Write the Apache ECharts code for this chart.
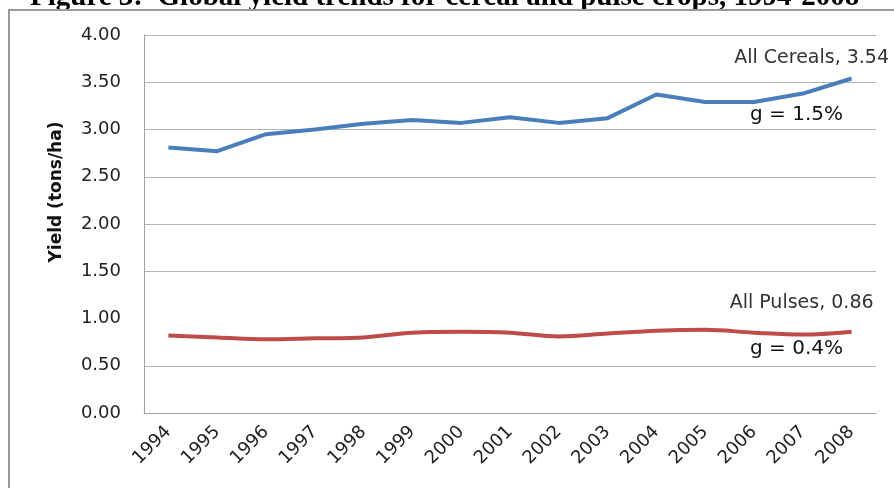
<!DOCTYPE html>
<html>
<head>
<meta charset="utf-8">
<script src="https://cdn.jsdelivr.net/npm/echarts@6/dist/echarts.min.js"></script>
<style>
  html, body { margin: 0; padding: 0; background: #fff; }
  #chart { width: 894px; height: 488px; }
</style>
</head>
<body>
<div id="chart"></div>
<script>
    // data
    var years = ['1994', '1995', '1996', '1997', '1998', '1999', '2000', '2001',
                 '2002', '2003', '2004', '2005', '2006', '2007', '2008'];
    var cereals = [2.81, 2.77, 2.95, 3.00, 3.06, 3.10, 3.07, 3.13, 3.07, 3.12, 3.37, 3.29, 3.29, 3.38, 3.54];
    var pulses = [0.82, 0.80, 0.78, 0.79, 0.80, 0.85, 0.86, 0.85, 0.81, 0.84, 0.87, 0.88, 0.85, 0.83, 0.86];
    var yTicks = [0, 0.5, 1, 1.5, 2, 2.5, 3, 3.5, 4];
    var growth = { cereals: 'g = 1.5%', pulses: 'g = 0.4%' };

    var textFont = '"DejaVu Sans", sans-serif';

    // the 1.00 gridline is absent in the original
    var gridColors = yTicks.map(function (v) {
        return v === 1 ? 'rgba(0,0,0,0)' : '#b4b4b4';
    });

    function lastLabel(values, name, offset) {
        return values.map(function (v, i) {
            if (i < values.length - 1) return v;
            return {
                value: v,
                label: {
                    show: true,
                    position: 'top',
                    offset: offset,
                    formatter: name + ', ' + v.toFixed(2),
                    fontFamily: textFont,
                    fontSize: 19,
                    color: '#333'
                }
            };
        });
    }

    var chart = echarts.init(document.getElementById('chart'));

    chart.setOption({
        animation: false,
        grid: { left: 144, right: 18, top: 35, bottom: 75 },
        xAxis: {
            type: 'category',
            data: years,
            boundaryGap: true,
            axisLine: { lineStyle: { color: '#a0a0a0', width: 1 } },
            axisTick: { show: false },
            axisLabel: {
                rotate: 45,
                margin: 16,
                fontFamily: textFont,
                fontSize: 18,
                color: '#222'
            }
        },
        yAxis: {
            type: 'value',
            min: 0,
            max: 4,
            interval: 0.5,
            axisLine: { show: true, lineStyle: { color: '#a0a0a0', width: 1 } },
            axisTick: { show: false },
            splitLine: { lineStyle: { color: gridColors, width: 1 } },
            axisLabel: {
                margin: 23,
                fontFamily: textFont,
                fontSize: 18,
                color: '#222',
                formatter: function (v) { return v.toFixed(2); }
            }
        },
        series: [
            {
                name: 'All Cereals',
                type: 'line',
                data: lastLabel(cereals, 'All Cereals', [-40, -6]),
                symbol: 'circle',
                symbolSize: 0,
                showSymbol: true,
                lineStyle: { color: '#4a7ebb', width: 4 },
                itemStyle: { color: '#4a7ebb' }
            },
            {
                name: 'All Pulses',
                type: 'line',
                data: lastLabel(pulses, 'All Pulses', [-50, -14]),
                smooth: 0.35,
                symbol: 'circle',
                symbolSize: 0,
                showSymbol: true,
                lineStyle: { color: '#be4b48', width: 4 },
                itemStyle: { color: '#be4b48' }
            }
        ],
        graphic: [
            {
                type: 'text',
                left: 30,
                top: -17,
                style: {
                    text: 'Figure 3:  Global yield trends for cereal and pulse crops, 1994-2008',
                    font: 'bold 29px "Liberation Serif", serif',
                    fill: '#000'
                }
            },
            {
                type: 'rect',
                shape: { x: 9, y: 10, width: 900, height: 500 },
                style: { fill: 'none', stroke: '#9a9a9a', lineWidth: 2 }
            },
            {
                type: 'text',
                x: 57,
                y: 192,
                rotation: Math.PI / 2,
                style: {
                    text: 'Yield (tons/ha)',
                    font: 'bold 17px ' + textFont,
                    fill: '#111',
                    align: 'center',
                    verticalAlign: 'middle'
                }
            },
            {
                type: 'text',
                left: 750,
                top: 105,
                style: {
                    text: growth.cereals,
                    font: '20px ' + textFont,
                    fill: '#111'
                }
            },
            {
                type: 'text',
                left: 750,
                top: 339,
                style: {
                    text: growth.pulses,
                    font: '20px ' + textFont,
                    fill: '#111'
                }
            }
        ]
    });
</script>
</body>
</html>
